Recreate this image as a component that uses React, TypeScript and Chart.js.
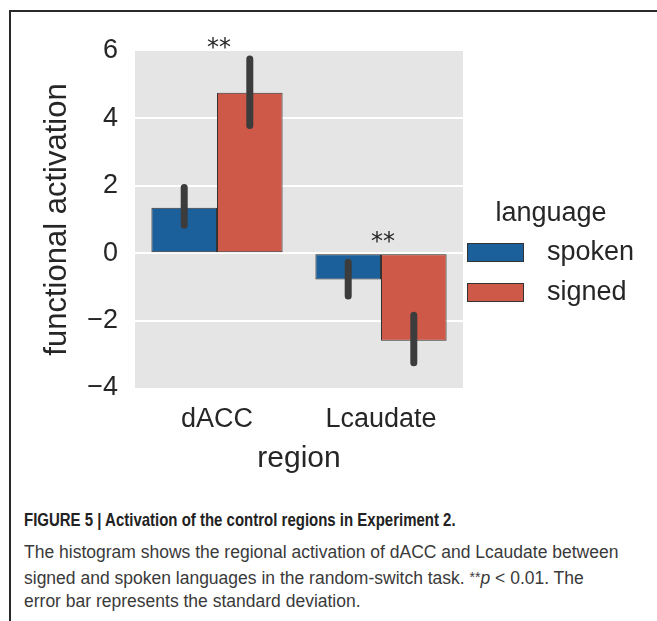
import React, { useEffect, useRef } from "react";
import { Chart, registerables } from "chart.js";

Chart.register(...registerables);

// ---- data ----
const regions = ["dACC", "Lcaudate"];
const seriesNames = ["spoken", "signed"];
const seriesColors = ["#1c609b", "#cf5948"];
const spokenValues = [1.35, -0.78];
const signedValues = [4.76, -2.6];
const spokenErrLow = [0.83, -1.27];
const spokenErrHigh = [1.95, -0.27];
const signedErrLow = [3.79, -3.25];
const signedErrHigh = [5.76, -1.84];
const significance = ["**", "**"];
const yMin = -4;
const yMax = 6;
const yStep = 2;

const errLows = [spokenErrLow, signedErrLow];
const errHighs = [spokenErrHigh, signedErrHigh];

const FONT = '"Liberation Sans", Arial, Helvetica, sans-serif';
const TEXT = "#262626";

const fmt = (v: number) => (v < 0 ? "\u2212" + Math.abs(v) : String(v));

const bgPlugin = {
  id: "plotBg",
  beforeDraw(chart: any) {
    const { ctx, chartArea: a } = chart;
    ctx.save();
    ctx.fillStyle = "#e5e5e5";
    ctx.fillRect(a.left, a.top, a.right - a.left, a.bottom - a.top);
    ctx.restore();
  },
};

const errPlugin = {
  id: "errBars",
  afterDatasetsDraw(chart: any) {
    const { ctx } = chart;
    const ys = chart.scales.y;
    const xs = chart.scales.x;
    ctx.save();
    ctx.strokeStyle = "#3c3c3c";
    ctx.lineWidth = 7;
    ctx.lineCap = "round";
    chart.data.datasets.forEach((ds: any, i: number) => {
      const meta = chart.getDatasetMeta(i);
      meta.data.forEach((bar: any, j: number) => {
        ctx.beginPath();
        ctx.moveTo(bar.x, ys.getPixelForValue(errLows[i][j]));
        ctx.lineTo(bar.x, ys.getPixelForValue(errHighs[i][j]));
        ctx.stroke();
      });
    });
    ctx.fillStyle = TEXT;
    ctx.font = '24px "DejaVu Sans", sans-serif';
    ctx.textAlign = "center";
    ctx.textBaseline = "alphabetic";
    regions.forEach((r, j) => {
      const tops = [0];
      chart.data.datasets.forEach((ds: any, i: number) => {
        tops.push(ds.data[j]);
        tops.push(errHighs[i][j]);
      });
      const top = Math.max(...tops);
      const cy = ys.getPixelForValue(top) - 17;
      ctx.fillText(significance[j], xs.getPixelForValue(j) + 2, cy + 13);
    });
    ctx.restore();
  },
};

const legendPlugin = {
  id: "customLegend",
  afterDraw(chart: any) {
    const { ctx } = chart;
    ctx.save();
    ctx.fillStyle = TEXT;
    ctx.font = `27px ${FONT}`;
    ctx.textBaseline = "middle";
    ctx.textAlign = "center";
    ctx.fillText("language", 551, 214);
    ctx.textAlign = "left";
    chart.data.datasets.forEach((ds: any, i: number) => {
      const y = 243 + i * 40;
      ctx.fillStyle = ds.backgroundColor;
      ctx.fillRect(467, y, 57, 19);
      ctx.strokeStyle = "#333333";
      ctx.lineWidth = 1;
      ctx.strokeRect(467.5, y + 0.5, 56, 18);
      ctx.fillStyle = TEXT;
      ctx.fillText(ds.label, 547, y + 10);
    });
    ctx.restore();
  },
};

function ChartView() {
  const ref = useRef<HTMLCanvasElement | null>(null);
  useEffect(() => {
    if (!ref.current) return;
    const chart = new Chart(ref.current, {
      type: "bar",
      data: {
        labels: regions,
        datasets: [
          {
            label: seriesNames[0],
            data: spokenValues,
            backgroundColor: seriesColors[0],
            borderColor: "#333333",
            borderWidth: 1,
            borderSkipped: false,
          },
          {
            label: seriesNames[1],
            data: signedValues,
            backgroundColor: seriesColors[1],
            borderColor: "#333333",
            borderWidth: 1,
            borderSkipped: false,
          },
        ] as any,
      },
      options: {
        responsive: false,
        animation: false,
        devicePixelRatio: 1,
        datasets: { bar: { categoryPercentage: 0.8, barPercentage: 1.0 } },
        layout: { padding: { left: 0, top: 51, right: 194, bottom: 0 } },
        plugins: { legend: { display: false }, tooltip: { enabled: false } },
        scales: {
          x: {
            grid: { display: false, drawTicks: false },
            border: { display: false },
            ticks: { font: { family: FONT, size: 27 }, color: TEXT, padding: 15 },
            title: {
              display: true,
              text: "region",
              font: { family: FONT, size: 30 },
              color: TEXT,
              padding: { top: 0, bottom: 3 },
            },
            afterFit: (s: any) => {
              s.height = 92;
            },
          },
          y: {
            min: yMin,
            max: yMax,
            grid: {
              color: (c: any) =>
                c.tick && (c.tick.value === yMin || c.tick.value === yMax) ? "rgba(0,0,0,0)" : "#ffffff",
              lineWidth: 2,
              drawTicks: false,
            },
            border: { display: false },
            ticks: {
              stepSize: yStep,
              font: { family: FONT, size: 27 },
              color: TEXT,
              padding: 17,
              callback: (v: any) => fmt(Number(v)),
            },
            title: {
              display: true,
              text: "functional activation",
              font: { family: FONT, size: 31 },
              color: TEXT,
              padding: { top: 39, bottom: 0 },
            },
            afterFit: (s: any) => {
              s.width = 135;
            },
          },
        },
      } as any,
      plugins: [bgPlugin, errPlugin, legendPlugin],
    });
    return () => chart.destroy();
  }, []);
  return (
    <canvas
      ref={ref}
      width={657}
      height={480}
      style={{ position: "absolute", left: 0, top: 0, width: 657, height: 480 }}
    />
  );
}

export default function App() {
  const cap: React.CSSProperties = {
    position: "absolute",
    left: 24,
    whiteSpace: "nowrap",
    fontFamily: FONT,
    fontSize: 17.5,
    lineHeight: "20px",
    color: "#3a3a3a",
  };
  return (
    <div
      style={{
        position: "absolute",
        left: 0,
        top: 0,
        width: 657,
        height: 621,
        overflow: "hidden",
        background: "#ffffff",
      }}
    >
      <div
        style={{
          position: "absolute",
          left: 9,
          top: 10,
          width: 700,
          height: 700,
          borderTop: "2px solid #2a2a2a",
          borderLeft: "2px solid #2a2a2a",
        }}
      />
      <ChartView />
      <div
        style={{
          ...cap,
          top: 510,
          fontWeight: "bold",
          fontSize: 18.5,
          color: "#222222",
          transform: "scaleX(0.81)",
          transformOrigin: "left center",
        }}
      >
        FIGURE 5 | Activation of the control regions in Experiment 2.
      </div>
      <div style={{ ...cap, top: 542 }}>
        The histogram shows the regional activation of dACC and Lcaudate between
      </div>
      <div style={{ ...cap, top: 567 }}>
        signed and spoken languages in the random-switch task. <span style={{ fontSize: 14, verticalAlign: "2px" }}>**</span>
        <i>p</i> &lt; 0.01. The
      </div>
      <div style={{ ...cap, top: 591 }}>error bar represents the standard deviation.</div>
    </div>
  );
}
